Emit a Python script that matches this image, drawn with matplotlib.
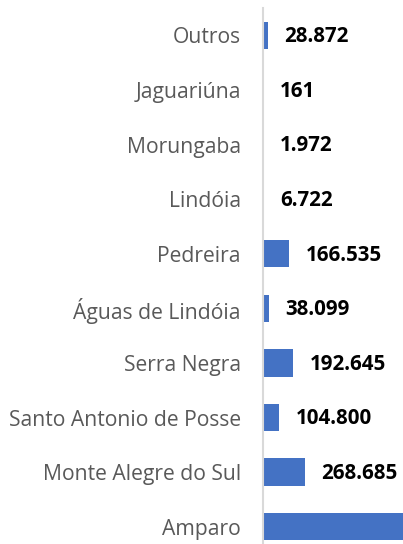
import matplotlib.pyplot as plt

# municipalities, bottom to top
cidades = ["Amparo", "Monte Alegre do Sul", "Santo Antonio de Posse", "Serra Negra",
           "Águas de Lindóia", "Pedreira", "Lindóia", "Morungaba", "Jaguariúna", "Outros"]
valores = [1050000, 268685, 104800, 192645, 38099, 166535, 6722, 1972, 161, 28872]
rotulos = ["1.050.000", "268.685", "104.800", "192.645", "38.099", "166.535",
           "6.722", "1.972", "161", "28.872"]

plt.rcParams['font.family'] = ['Open Sans', 'DejaVu Sans']

fig = plt.figure(figsize=(4.03, 5.44), dpi=100)
ax = fig.add_axes([263/403, -10/544, 140/403, 546/544])

y = range(len(cidades))
ax.barh(y, valores, height=0.5, color="#4472C4")
ax.set_xlim(0, 140/1.56e-4)
ax.set_ylim(-0.5, len(cidades)-0.5)
ax.set_yticks(list(y))
ax.set_yticklabels(cidades, fontsize=15.2, color="#595959")
ax.tick_params(axis='y', length=0, pad=16)
ax.set_xticks([])
for s in ["top", "right", "bottom"]:
    ax.spines[s].set_visible(False)
ax.spines["left"].set_color("#D9D9D9")
ax.spines["left"].set_linewidth(1.5)

for i, v in enumerate(valores):
    ax.annotate(rotulos[i], (v, i), xytext=(12, -1), textcoords="offset points",
                va="center", ha="left", fontsize=14.8, fontweight="bold", color="black")

fig.savefig("out.png", dpi=100)
